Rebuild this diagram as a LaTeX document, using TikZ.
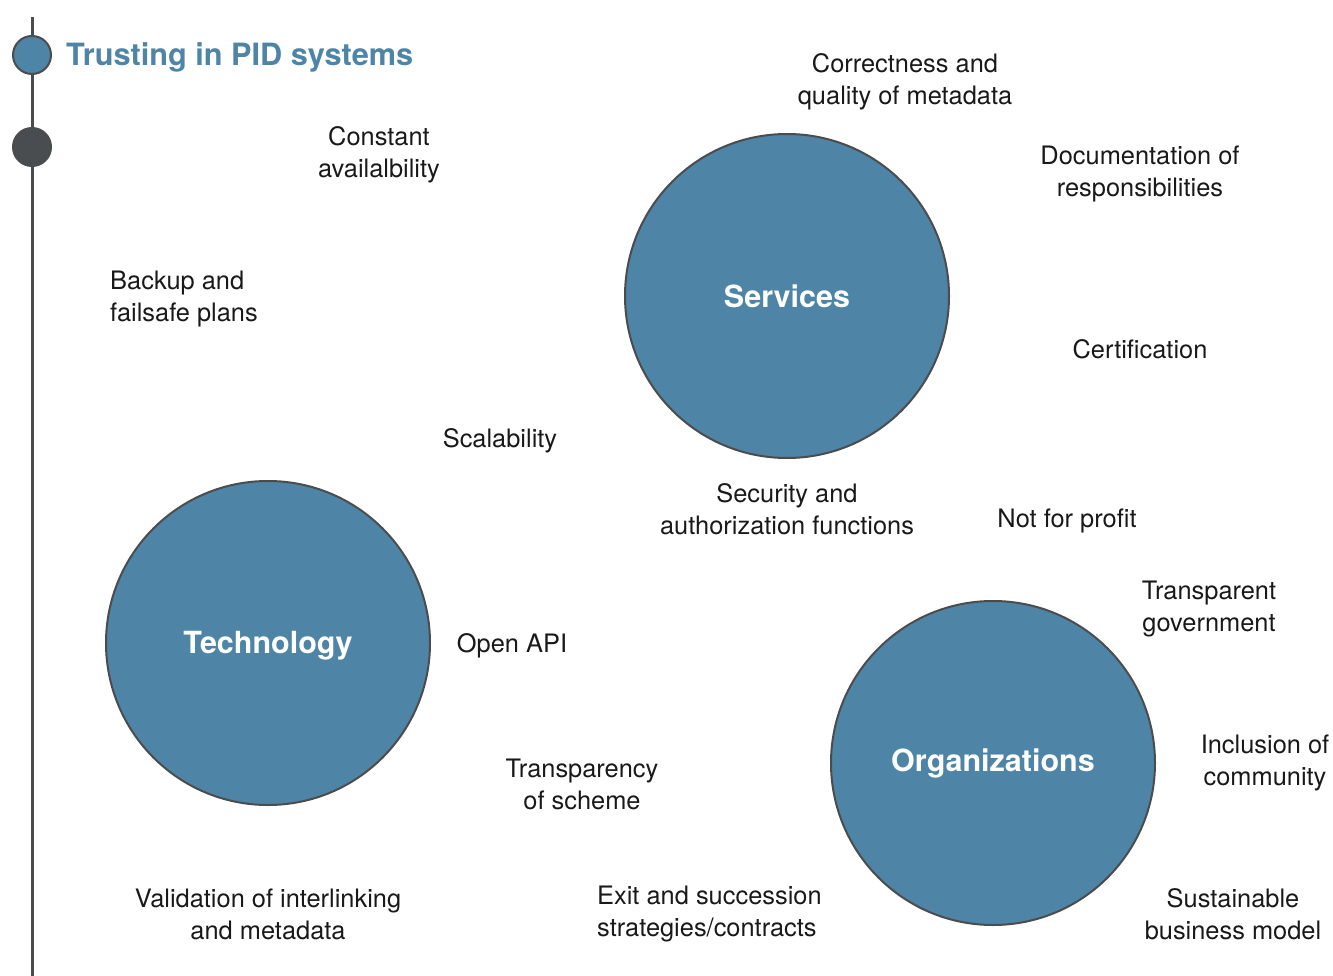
\documentclass[tikz,border=0pt]{standalone}
\usepackage{fontspec}
\setmainfont{TeX Gyre Heros}
\begin{document}
\begin{tikzpicture}[x=1pt,y=-1pt,
  big/.style={circle,draw=linegray,line width=2pt,fill=pidblue,minimum size=324pt,inner sep=0pt,
    text=white,font=\fontsize{30.5}{34}\selectfont\bfseries},
  bigtext/.style={inner sep=0pt,text=white,font=\fontsize{30.5}{34}\selectfont\bfseries},
  lbl/.style={align=center,inner sep=0pt,text=black!90,font=\fontsize{25.4}{32}\selectfont},
  lbll/.style={lbl,align=left},
  dot/.style={circle,draw=linegray,line width=2pt,minimum size=38pt,inner sep=0pt}]
\definecolor{pidblue}{HTML}{4E84A5}
\definecolor{linegray}{HTML}{4A4C4E}
\definecolor{darkdot}{HTML}{4A4D4F}
\useasboundingbox (0,0) rectangle (1333,976);
\coordinate (ltop) at (32,17);
\coordinate (lbot) at (32,976);
\draw[linegray,line width=3pt] (ltop) -- (lbot);
\node[dot,fill=pidblue] (d1) at (32,55) {};
\node[dot,fill=darkdot] (d2) at (32,147) {};
\node[anchor=west,inner sep=0pt,text=pidblue,font=\fontsize{30.7}{34}\selectfont\bfseries] (title) at (66,57.5) {Trusting in PID systems};

\node[big] (srv) at (787,296) {Services};
\node[big] (tech) at (268,643) {};
\node[bigtext,yshift=-3pt] (techlbl) at (tech) {Technology};
\node[big] (org) at (993,763) {Organizations};

\begin{scope}[yshift=-1pt]
\node[lbl] (l1) at (905,81) {Correctness and\\quality of metadata};
\node[lbl] (l2) at (379,154) {Constant\\availalbility};
\node[lbl] (l3) at (1140,173) {Documentation of\\responsibilities};
\node[lbll,anchor=west] (l4) at (110,298) {Backup and\\failsafe plans};
\node[lbl] (l5) at (1140,348) {Certification};
\node[lbl] (l6) at (500,440) {Scalability};
\node[lbl] (l7) at (787,508) {Security and\\authorization functions};
\node[lbl] (l8) at (1067,520) {Not for profit};
\node[lbl] (l9) at (1209,608) {Transparent\\government};
\node[lbl] (l10) at (512,645) {Open API};
\node[lbl] (l11) at (1265,762) {Inclusion of\\community};
\node[lbl] (l12) at (582,783) {Transparency\\of scheme};
\node[lbl] (l13) at (268,913) {Validation of interlinking\\and metadata};
\node[lbll,anchor=west] (l14) at (597,913) {Exit and succession\\strategies/contracts};
\node[lbl] (l15) at (1233,913) {Sustainable\\business model};
\end{scope}
\end{tikzpicture}
\end{document}
